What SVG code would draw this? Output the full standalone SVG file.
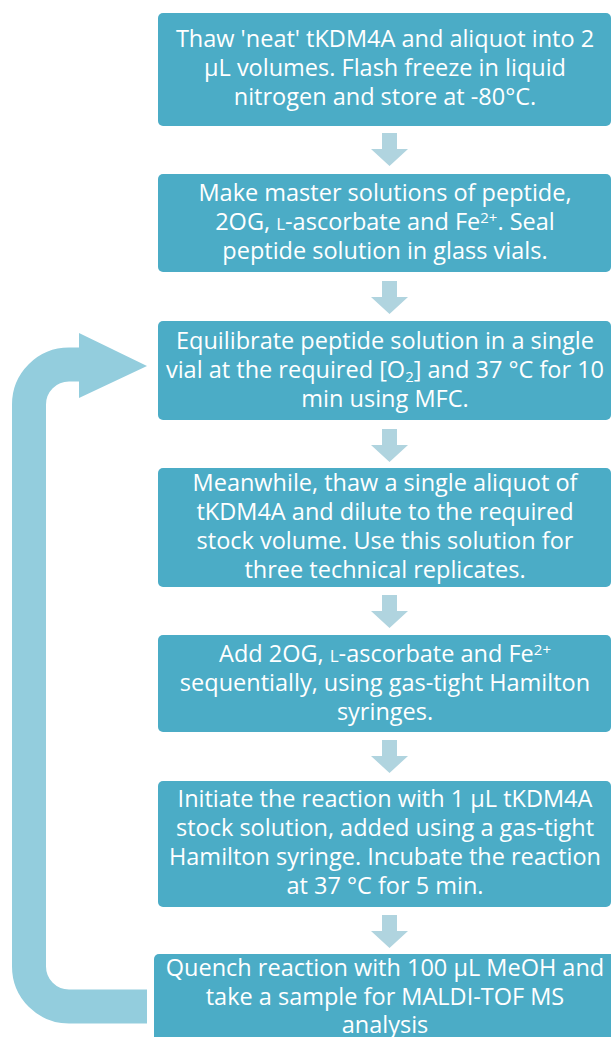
<svg xmlns="http://www.w3.org/2000/svg" width="611" height="1037" viewBox="0 0 611 1037">
<style>
.box{fill:#4BACC6;}
.t{font-family:"Open Sans","Liberation Sans",sans-serif;font-size:23.5px;fill:#FFFFFF;text-anchor:middle;}
.sc{font-size:17px;}
.sup{font-size:15px;}
.arr{fill:#B0D4DF;}
.loop{fill:none;stroke:#93CDDD;stroke-width:34;}
</style>
<defs>
<path id="dn" d="M -7.5 0 H 7.5 V 16 H 18.5 L 0 33 L -18.5 16 H -7.5 Z"/>
</defs>
<rect width="611" height="1037" fill="#FFFFFF"/>
<g id="connectors">
<use href="#dn" class="arr" transform="translate(389.5,133)"/>
<use href="#dn" class="arr" transform="translate(389.5,281)"/>
<use href="#dn" class="arr" transform="translate(389.5,429)"/>
<use href="#dn" class="arr" transform="translate(389.5,595)"/>
<use href="#dn" class="arr" transform="translate(389.5,740)"/>
<use href="#dn" class="arr" transform="translate(389.5,915)"/>
<path class="loop" d="M 147 1006.5 H 69 A 40 40 0 0 1 29 966.5 V 404.5 A 40 40 0 0 1 69 364.5 H 82"/>
<polygon points="79,333 147,366 79,398" fill="#93CDDD"/>
</g>
<g id="n1">
<rect class="box" x="158" y="13" width="453" height="113" rx="5"/>
<text class="t"><tspan x="385" y="47">Thaw 'neat' tKDM4A and aliquot into 2</tspan><tspan x="385" y="76">µL volumes. Flash freeze in liquid</tspan><tspan x="385" y="105">nitrogen and store at -80°C.</tspan></text>
</g>
<g id="n2">
<rect class="box" x="158" y="174" width="453" height="98" rx="5"/>
<text class="t"><tspan x="385" y="201">Make master solutions of peptide,</tspan><tspan x="385" y="230">2OG, <tspan class="sc">L</tspan>-ascorbate and Fe<tspan class="sup" dy="-7">2+</tspan><tspan dy="7">. Seal</tspan></tspan><tspan x="385" y="259">peptide solution in glass vials.</tspan></text>
</g>
<g id="n3">
<rect class="box" x="158" y="321" width="453" height="99" rx="5"/>
<text class="t"><tspan x="385" y="349">Equilibrate peptide solution in a single</tspan><tspan x="385" y="378">vial at the required [O<tspan class="sup" dy="4">2</tspan><tspan dy="-4">] and 37 °C for 10</tspan></tspan><tspan x="385" y="407">min using MFC.</tspan></text>
</g>
<g id="n4">
<rect class="box" x="158" y="468" width="453" height="119" rx="5"/>
<text class="t"><tspan x="385" y="491">Meanwhile, thaw a single aliquot of</tspan><tspan x="385" y="520">tKDM4A and dilute to the required</tspan><tspan x="385" y="549">stock volume. Use this solution for</tspan><tspan x="385" y="578">three technical replicates.</tspan></text>
</g>
<g id="n5">
<rect class="box" x="158" y="635" width="453" height="97" rx="5"/>
<text class="t"><tspan x="385" y="662">Add 2OG, <tspan class="sc">L</tspan>-ascorbate and Fe<tspan class="sup" dy="-7">2+</tspan></tspan><tspan x="385" y="691">sequentially, using gas-tight Hamilton</tspan><tspan x="385" y="720">syringes.</tspan></text>
</g>
<g id="n6">
<rect class="box" x="158" y="781" width="453" height="126" rx="5"/>
<text class="t"><tspan x="385" y="807">Initiate the reaction with 1 µL tKDM4A</tspan><tspan x="385" y="836">stock solution, added using a gas-tight</tspan><tspan x="385" y="865">Hamilton syringe. Incubate the reaction</tspan><tspan x="385" y="894">at 37 °C for 5 min.</tspan></text>
</g>
<g id="n7">
<rect class="box" x="154" y="954" width="470" height="100" rx="5"/>
<text class="t"><tspan x="385" y="976">Quench reaction with 100 µL MeOH and</tspan><tspan x="385" y="1005">take a sample for MALDI-TOF MS</tspan><tspan x="385" y="1033">analysis</tspan></text>
</g>
</svg>
